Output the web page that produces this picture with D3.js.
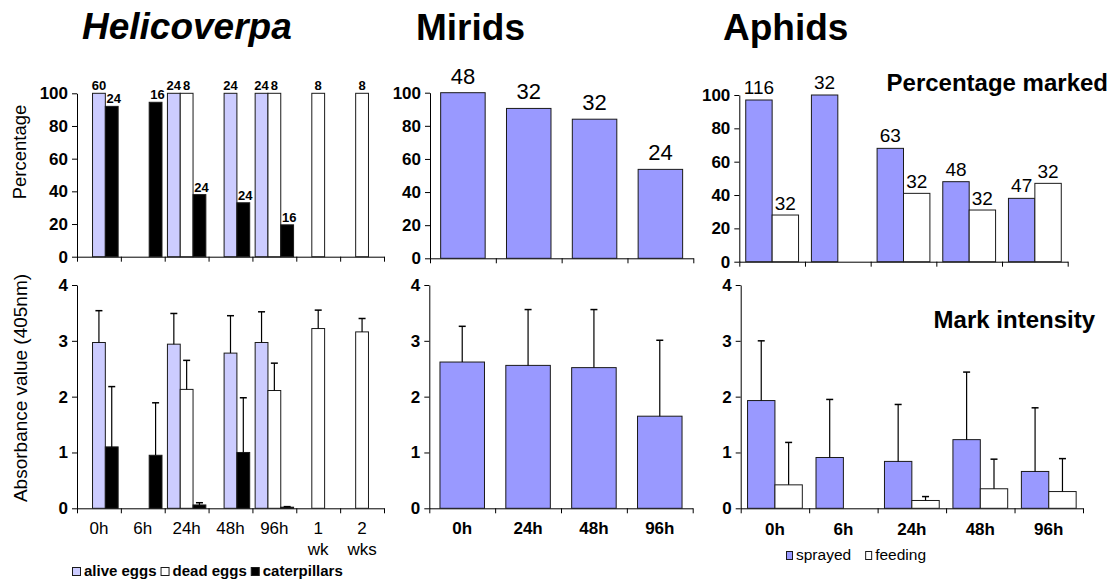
<!DOCTYPE html>
<html>
<head>
<meta charset="utf-8">
<script src="https://cdn.jsdelivr.net/npm/d3@7"></script>
<style>
  body { margin: 0; background: #fff; }
  svg { display: block; }
  text { font-family: "Liberation Sans", Arial, Helvetica, sans-serif; fill: #000; }
</style>
</head>
<body>
<svg id="chart" width="1114" height="579"></svg>
<script>
// ---------- Helicoverpa ----------
const heliCategories = ["0h", "6h", "24h", "48h", "96h", "1 wk", "2 wks"];
const heliAlivePct = [100, null, 100, 100, 100, null, null];
const heliDeadPct = [null, null, 100, null, 100, 100, 100];
const heliCaterpillarPct = [92, 94.5, 38, 33, 19.5, null, null];
const heliAliveN = [60, null, 24, 24, 24, null, null];
const heliDeadN = [null, null, 8, null, 8, 8, 8];
const heliCaterpillarN = [24, 16, 24, 24, 16, null, null];

const heliAliveAbs = [2.97, null, 2.94, 2.78, 2.97, null, null];
const heliAliveErr = [0.57, null, 0.55, 0.67, 0.55, null, null];
const heliDeadAbs = [null, null, 2.13, null, 2.11, 3.22, 3.16];
const heliDeadErr = [null, null, 0.52, null, 0.49, 0.33, 0.24];
const heliCaterpillarAbs = [1.10, 0.95, 0.06, 1.00, 0.02, null, null];
const heliCaterpillarErr = [1.08, 0.94, 0.04, 0.98, 0.01, null, null];

// ---------- Mirids ----------
const miridCategories = ["0h", "24h", "48h", "96h"];
const miridPct = [100, 90.5, 84, 53.7];
const miridN = [48, 32, 32, 24];
const miridAbs = [2.62, 2.56, 2.52, 1.65];
const miridErr = [0.64, 1.00, 1.04, 1.36];

// ---------- Aphids ----------
const aphidCategories = ["0h", "6h", "24h", "48h", "96h"];
const aphidSprayedPct = [97, 100, 68, 48, 38];
const aphidFeedingPct = [28, null, 41, 31, 47];
const aphidSprayedN = [116, 32, 63, 48, 47];
const aphidFeedingN = [32, null, 32, 32, 32];
const aphidSprayedAbs = [1.93, 0.91, 0.84, 1.23, 0.66];
const aphidSprayedErr = [1.07, 1.04, 1.02, 1.21, 1.14];
const aphidFeedingAbs = [0.42, null, 0.14, 0.35, 0.30];
const aphidFeedingErr = [0.76, null, 0.07, 0.53, 0.59];

// ---------- axis ticks ----------
const pctTicks = [0, 20, 40, 60, 80, 100];
const absTicks = [0, 1, 2, 3, 4];

const COLORS = {
  alive: "#CCCCFF",
  dead: "#FFFFFF",
  caterpillar: "#000000",
  sprayed: "#9999FF",
  feeding: "#FFFFFF"
};
const OUTLINE = "#1a1a1a";

const svg = d3.select("#chart");
svg.append("rect").attr("width", 1114).attr("height", 579).attr("fill", "#fff");

// A panel: band scale for categories, linear scale for values, axes with Excel-like ticks
function makePanel(cfg) {
  const g = svg.append("g");
  const x = d3.scaleBand().domain(cfg.categories).range([cfg.x0, cfg.x1]).padding(0);
  const y = d3.scaleLinear().domain([0, cfg.max]).range([cfg.yBottom, cfg.yTop]);

  // y axis
  const ya = g.append("g")
    .attr("transform", `translate(${cfg.x0},0)`)
    .call(d3.axisLeft(y).tickValues(cfg.ticks).tickSize(5).tickPadding(4).tickSizeOuter(0).tickFormat(d3.format("d")));
  ya.select(".domain").attr("stroke", "#000").attr("stroke-width", 1);
  ya.selectAll(".tick line").attr("stroke", "#000");
  ya.selectAll(".tick text")
    .attr("font-family", "Liberation Sans, Arial, sans-serif")
    .attr("font-size", 17).attr("font-weight", "bold").attr("fill", "#000");

  // x axis: ticks on category boundaries
  const xb = d3.scaleLinear().domain([0, cfg.categories.length]).range([cfg.x0, cfg.x1]);
  const xa = g.append("g")
    .attr("transform", `translate(0,${cfg.yBottom})`)
    .call(d3.axisBottom(xb).tickValues(d3.range(cfg.categories.length + 1)).tickSize(5).tickSizeOuter(0).tickFormat(""));
  xa.select(".domain").attr("stroke", "#000").attr("stroke-width", 1);
  xa.selectAll(".tick line").attr("stroke", "#000");

  return { g, x, y };
}

function drawBar(p, cx, w, v, fill) {
  if (v == null) return;
  const y0 = p.y(0), y1 = p.y(v);
  p.g.append("rect")
    .attr("x", cx - w / 2).attr("y", y1)
    .attr("width", w).attr("height", Math.max(0, y0 - y1))
    .attr("fill", fill).attr("stroke", OUTLINE).attr("stroke-width", 1);
}

function drawErr(p, cx, v, e) {
  if (v == null || e == null) return;
  const yv = p.y(v), ye = p.y(v + e);
  p.g.append("line").attr("x1", cx).attr("x2", cx).attr("y1", yv).attr("y2", ye)
    .attr("stroke", "#000").attr("stroke-width", 1.2);
  p.g.append("line").attr("x1", cx - 3.5).attr("x2", cx + 3.5).attr("y1", ye).attr("y2", ye)
    .attr("stroke", "#000").attr("stroke-width", 1.5);
}

function drawCount(p, cx, v, n, size, gap, weight) {
  if (v == null || n == null) return;
  p.g.append("text")
    .attr("x", cx).attr("y", p.y(v) - gap)
    .attr("text-anchor", "middle")
    .attr("font-size", size).attr("font-weight", weight)
    .text(n);
}

function drawCategoryLabels(p, cats, baseline, weight) {
  cats.forEach(c => {
    const lines = c.split(" ");
    const t = p.g.append("text")
      .attr("x", p.x(c) + p.x.bandwidth() / 2)
      .attr("y", baseline)
      .attr("text-anchor", "middle")
      .attr("font-size", 17).attr("font-weight", weight);
    lines.forEach((ln, i) => {
      t.append("tspan").attr("x", p.x(c) + p.x.bandwidth() / 2).attr("dy", i === 0 ? 0 : 21).text(ln);
    });
  });
}

// ---------- Helicoverpa panels ----------
function heliSlots(p, i) {
  const band = p.x.bandwidth();
  const w = band * 0.292;
  const start = p.x(heliCategories[i]) + (band - 3 * w) / 2;
  // alive eggs move next to caterpillars when there are no dead eggs in that group
  const aliveSlot = heliDeadPct[i] == null && heliDeadAbs[i] == null ? 1 : 0;
  return {
    w,
    alive: start + w * (aliveSlot + 0.5),
    dead: start + w * 1.5,
    caterpillar: start + w * 2.5
  };
}

const heliTop = makePanel({ categories: heliCategories, x0: 77, x1: 384, yTop: 93.3, yBottom: 256.7, max: 100, ticks: pctTicks });
heliCategories.forEach((c, i) => {
  const s = heliSlots(heliTop, i);
  drawBar(heliTop, s.alive, s.w, heliAlivePct[i], COLORS.alive);
  drawBar(heliTop, s.dead, s.w, heliDeadPct[i], COLORS.dead);
  drawBar(heliTop, s.caterpillar, s.w, heliCaterpillarPct[i], COLORS.caterpillar);
  drawCount(heliTop, s.alive, heliAlivePct[i], heliAliveN[i], 13, 3, "bold");
  drawCount(heliTop, s.dead, heliDeadPct[i], heliDeadN[i], 13, 3, "bold");
  drawCount(heliTop, s.caterpillar + 2, heliCaterpillarPct[i], heliCaterpillarN[i], 13, 3, "bold");
});

const heliBottom = makePanel({ categories: heliCategories, x0: 77, x1: 384, yTop: 285, yBottom: 508.3, max: 4, ticks: absTicks });
heliCategories.forEach((c, i) => {
  const s = heliSlots(heliBottom, i);
  drawBar(heliBottom, s.alive, s.w, heliAliveAbs[i], COLORS.alive);
  drawBar(heliBottom, s.dead, s.w, heliDeadAbs[i], COLORS.dead);
  drawBar(heliBottom, s.caterpillar, s.w, heliCaterpillarAbs[i], COLORS.caterpillar);
  drawErr(heliBottom, s.alive, heliAliveAbs[i], heliAliveErr[i]);
  drawErr(heliBottom, s.dead, heliDeadAbs[i], heliDeadErr[i]);
  drawErr(heliBottom, s.caterpillar, heliCaterpillarAbs[i], heliCaterpillarErr[i]);
});
drawCategoryLabels(heliBottom, heliCategories, 534, "normal");

// ---------- Mirid panels ----------
const miridTop = makePanel({ categories: miridCategories, x0: 430, x1: 693.3, yTop: 92.7, yBottom: 258.3, max: 100, ticks: pctTicks });
miridCategories.forEach((c, i) => {
  const cx = miridTop.x(c) + miridTop.x.bandwidth() / 2;
  const w = miridTop.x.bandwidth() * 0.676;
  drawBar(miridTop, cx, w, miridPct[i], COLORS.sprayed);
  drawCount(miridTop, cx, miridPct[i], miridN[i], 22, 9, "normal");
});

const miridBottom = makePanel({ categories: miridCategories, x0: 429.3, x1: 692.7, yTop: 285, yBottom: 508.3, max: 4, ticks: absTicks });
miridCategories.forEach((c, i) => {
  const cx = miridBottom.x(c) + miridBottom.x.bandwidth() / 2;
  const w = miridBottom.x.bandwidth() * 0.676;
  drawBar(miridBottom, cx, w, miridAbs[i], COLORS.sprayed);
  drawErr(miridBottom, cx, miridAbs[i], miridErr[i]);
});
drawCategoryLabels(miridBottom, miridCategories, 534, "bold");

// ---------- Aphid panels ----------
const aphidTop = makePanel({ categories: aphidCategories, x0: 739.3, x1: 1067.7, yTop: 95, yBottom: 261.7, max: 100, ticks: pctTicks });
aphidCategories.forEach((c, i) => {
  const band = aphidTop.x.bandwidth();
  const w = band * 0.402;
  const mid = aphidTop.x(c) + band / 2;
  drawBar(aphidTop, mid - w / 2, w, aphidSprayedPct[i], COLORS.sprayed);
  drawBar(aphidTop, mid + w / 2, w, aphidFeedingPct[i], COLORS.feeding);
  drawCount(aphidTop, mid - w / 2, aphidSprayedPct[i], aphidSprayedN[i], 19, 6, "normal");
  drawCount(aphidTop, mid + w / 2, aphidFeedingPct[i], aphidFeedingN[i], 19, 5, "normal");
});

const aphidBottom = makePanel({ categories: aphidCategories, x0: 740.7, x1: 1083, yTop: 285, yBottom: 508.3, max: 4, ticks: absTicks });
aphidCategories.forEach((c, i) => {
  const band = aphidBottom.x.bandwidth();
  const w = band * 0.4;
  const mid = aphidBottom.x(c) + band / 2;
  drawBar(aphidBottom, mid - w / 2, w, aphidSprayedAbs[i], COLORS.sprayed);
  drawBar(aphidBottom, mid + w / 2, w, aphidFeedingAbs[i], COLORS.feeding);
  drawErr(aphidBottom, mid - w / 2, aphidSprayedAbs[i], aphidSprayedErr[i]);
  drawErr(aphidBottom, mid + w / 2, aphidFeedingAbs[i], aphidFeedingErr[i]);
});
drawCategoryLabels(aphidBottom, aphidCategories, 535, "bold");

// ---------- titles ----------
svg.append("text").attr("x", 82).attr("y", 39).attr("font-size", 37)
  .attr("font-weight", "bold").attr("font-style", "italic").text("Helicoverpa");
svg.append("text").attr("x", 416).attr("y", 40).attr("font-size", 37)
  .attr("font-weight", "bold").text("Mirids");
svg.append("text").attr("x", 723).attr("y", 40).attr("font-size", 37)
  .attr("font-weight", "bold").text("Aphids");
svg.append("text").attr("x", 1108).attr("y", 91).attr("text-anchor", "end")
  .attr("font-size", 24).attr("font-weight", "bold").text("Percentage marked");
svg.append("text").attr("x", 1095).attr("y", 328).attr("text-anchor", "end")
  .attr("font-size", 24).attr("font-weight", "bold").text("Mark intensity");

// ---------- y-axis titles ----------
svg.append("text").attr("transform", "translate(26,152) rotate(-90)")
  .attr("text-anchor", "middle").attr("font-size", 18.5).text("Percentage");
svg.append("text").attr("transform", "translate(27,388) rotate(-90)")
  .attr("text-anchor", "middle").attr("font-size", 19).text("Absorbance value (405nm)");

// ---------- legends ----------
function legend(items, x, baseline, box, size, weight, gap) {
  let cx = x;
  items.forEach(it => {
    svg.append("rect")
      .attr("x", cx + 0.5).attr("y", baseline - box.h - 0.5)
      .attr("width", box.w).attr("height", box.h)
      .attr("fill", it.color).attr("stroke", OUTLINE).attr("stroke-width", 1);
    const t = svg.append("text")
      .attr("x", cx + box.w + 4).attr("y", baseline)
      .attr("font-size", size).attr("font-weight", weight).text(it.label);
    cx = cx + box.w + 4 + t.node().getComputedTextLength() + gap;
  });
}
legend([
  { label: "alive eggs", color: COLORS.alive },
  { label: "dead eggs", color: COLORS.dead },
  { label: "caterpillars", color: COLORS.caterpillar }
], 72, 576, { w: 8, h: 8 }, 15, "bold", 4);

legend([
  { label: "sprayed", color: COLORS.sprayed },
  { label: "feeding", color: COLORS.feeding }
], 786, 560, { w: 6, h: 8 }, 15.5, "normal", 14);
</script>
</body>
</html>
